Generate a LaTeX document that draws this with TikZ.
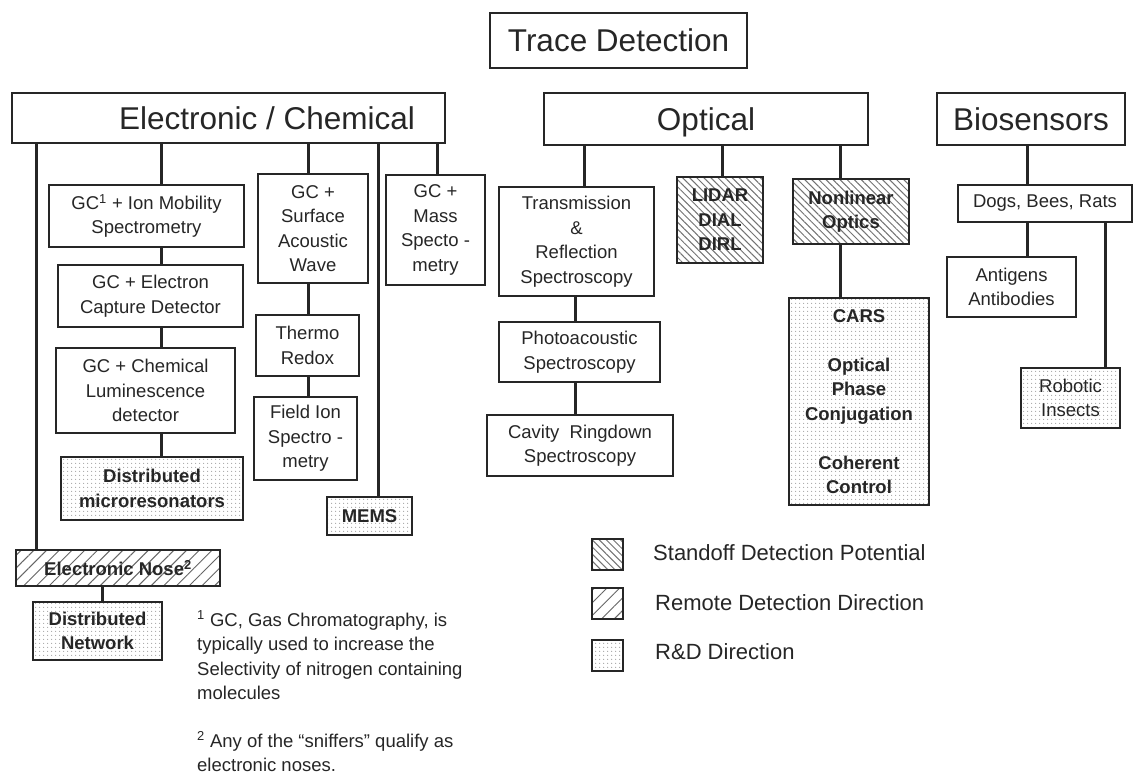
\documentclass[tikz,border=0pt]{standalone}
\usepackage{fontspec}
\setmainfont{Liberation Sans}
\usetikzlibrary{patterns,patterns.meta}
\tikzset{
  box/.style={draw=black!85, line width=2pt, align=center, inner sep=2pt,
    text=black!85, font=\fontsize{18.5}{24.5}\selectfont},
  plainbox/.style={box, fill=white},
  titlebox/.style={box, fill=white, text depth=0pt, font=\fontsize{31.5}{36}\selectfont},
  rdbox/.style={box, pattern={Dots[radius=0.75pt,distance=4pt]}, pattern color=black!35},
  rdbold/.style={rdbox, font=\fontsize{18.5}{24.5}\selectfont\bfseries},
  standoff/.style={box, pattern={Lines[angle=-45,distance=5pt,line width=1pt]}, pattern color=black!55},
  standoffbold/.style={standoff, font=\fontsize{18.5}{24.5}\selectfont\bfseries},
  remote/.style={box, pattern={Lines[angle=45,distance=9pt,line width=1pt]}, pattern color=black!60},
  remotebold/.style={remote, font=\fontsize{18.5}{24.5}\selectfont\bfseries},
  conn/.style={draw=black!85, line width=3pt},
  legtext/.style={anchor=west, inner sep=0pt, text=black!85, font=\fontsize{22}{26}\selectfont},
  foot/.style={anchor=north west, inner sep=0pt, align=left, text=black!85, font=\fontsize{18.5}{24.5}\selectfont},
}
\begin{document}
\begin{tikzpicture}[x=1pt,y=-1pt]
\useasboundingbox (0,0) rectangle (1134,775);
\fill[white] (0,0) rectangle (1134,775);

% titles
\node[titlebox, minimum width=257, minimum height=55] (trace) at (618.5,40.5) {Trace Detection};
\node[titlebox, minimum width=433, minimum height=50] (elec) at (228.5,118) {\hspace*{77pt}Electronic / Chemical};
\node[titlebox, minimum width=324, minimum height=52] (opt) at (706,119) {Optical};
\node[titlebox, minimum width=188, minimum height=52] (bio) at (1031,119) {Biosensors};

% electronic / chemical
\node[plainbox, minimum width=195, minimum height=62] (gc1) at (146.5,216) {GC\textsuperscript{1} + Ion Mobility\\Spectrometry};
\node[plainbox, minimum width=185, minimum height=62] (gcec) at (150.5,296) {GC + Electron\\Capture Detector};
\node[plainbox, minimum width=179, minimum height=85] (gccl) at (145.5,390.5) {GC + Chemical\\Luminescence\\detector};
\node[rdbold, minimum width=182, minimum height=63] (dmr) at (152,488.5) {Distributed\\microresonators};
\node[plainbox, minimum width=110, minimum height=109] (saw) at (313,228.5) {GC +\\Surface\\Acoustic\\Wave};
\node[plainbox, minimum width=103, minimum height=61] (thermo) at (307.5,345.5) {Thermo\\Redox};
\node[plainbox, minimum width=103, minimum height=83] (fis) at (305.5,438.5) {Field Ion\\Spectro -\\metry};
\node[plainbox, minimum width=99, minimum height=110] (mass) at (435.5,230) {GC +\\Mass\\Specto -\\metry};
\node[rdbold, minimum width=85, minimum height=38] (mems) at (369.5,516) {MEMS};
\node[remotebold, minimum width=204, minimum height=36] (nose) at (118,568) {Electronic Nose\textsuperscript{2}};
\node[rdbold, minimum width=129, minimum height=58] (dnet) at (97.5,631) {Distributed\\Network};

% optical
\node[plainbox, minimum width=155, minimum height=109] (trans) at (576.5,241.5) {Transmission\\\&\\Reflection\\Spectroscopy};
\node[plainbox, minimum width=161, minimum height=60] (photo) at (579.5,352) {Photoacoustic\\Spectroscopy};
\node[plainbox, minimum width=186, minimum height=61] (cavity) at (580,445.5) {Cavity\ \ Ringdown\\Spectroscopy};
\node[standoffbold, minimum width=86, minimum height=86] (lidar) at (720,220) {LIDAR\\DIAL\\DIRL};
\node[standoffbold, minimum width=116, minimum height=65] (nlo) at (851,211.5) {Nonlinear\\Optics};
\node[rdbold, minimum width=140, minimum height=207] (cars) at (859,401.5) {CARS\\[24.5pt]Optical\\Phase\\Conjugation\\[24.5pt]Coherent\\Control};

% biosensors
\node[plainbox, minimum width=174, minimum height=37] (dogs) at (1045,203.5) {Dogs, Bees, Rats};
\node[plainbox, minimum width=129, minimum height=60] (anti) at (1011.5,287) {Antigens\\Antibodies};
\node[rdbox, minimum width=99, minimum height=60] (robo) at (1070.5,398) {Robotic\\Insects};

% connector x positions
\coordinate (xa) at (36,0);
\coordinate (xb) at (161,0);
\coordinate (xc) at (308,0);
\coordinate (xd) at (378,0);
\coordinate (xe) at (437,0);
\coordinate (xf) at (102,0);
\coordinate (xg) at (584,0);
\coordinate (xh) at (575,0);
\coordinate (xi) at (722,0);
\coordinate (xj) at (840,0);
\coordinate (xk) at (1027,0);
\coordinate (xl) at (1105,0);

\draw[conn] (elec.south -| xa) -- (nose.north -| xa);
\draw[conn] (elec.south -| xb) -- (gc1.north -| xb);
\draw[conn] (gc1.south -| xb) -- (gcec.north -| xb);
\draw[conn] (gcec.south -| xb) -- (gccl.north -| xb);
\draw[conn] (gccl.south -| xb) -- (dmr.north -| xb);
\draw[conn] (elec.south -| xc) -- (saw.north -| xc);
\draw[conn] (saw.south -| xc) -- (thermo.north -| xc);
\draw[conn] (thermo.south -| xc) -- (fis.north -| xc);
\draw[conn] (elec.south -| xd) -- (mems.north -| xd);
\draw[conn] (elec.south -| xe) -- (mass.north -| xe);
\draw[conn] (nose.south -| xf) -- (dnet.north -| xf);
\draw[conn] (opt.south -| xg) -- (trans.north -| xg);
\draw[conn] (trans.south -| xh) -- (photo.north -| xh);
\draw[conn] (photo.south -| xh) -- (cavity.north -| xh);
\draw[conn] (opt.south -| xi) -- (lidar.north -| xi);
\draw[conn] (opt.south -| xj) -- (nlo.north -| xj);
\draw[conn] (nlo.south -| xj) -- (cars.north -| xj);
\draw[conn] (bio.south -| xk) -- (dogs.north -| xk);
\draw[conn] (dogs.south -| xk) -- (anti.north -| xk);
\draw[conn] (dogs.south -| xl) -- (robo.north -| xl);

% legend
\node[standoff, minimum width=31, minimum height=31] (leg1) at (607.5,554) {};
\node[remote, minimum width=31, minimum height=31] (leg2) at (607.5,603.5) {};
\node[rdbox, minimum width=31, minimum height=31] (leg3) at (607.5,655.5) {};
\node[legtext] (leg1t) at (653,553) {Standoff Detection Potential};
\node[legtext] (leg2t) at (655,603) {Remote Detection Direction};
\node[legtext] (leg3t) at (655,652) {R\&D Direction};

% footnotes
\node[foot] (fn1) at (197,608.85) {\strut\textsuperscript{1} GC, Gas Chromatography, is\\typically used to increase the\\Selectivity of nitrogen containing\\molecules};
\node[foot] (fn2) at (197,729.85) {\strut\textsuperscript{2} Any of the “sniffers” qualify as\\electronic noses.};
\end{tikzpicture}
\end{document}
